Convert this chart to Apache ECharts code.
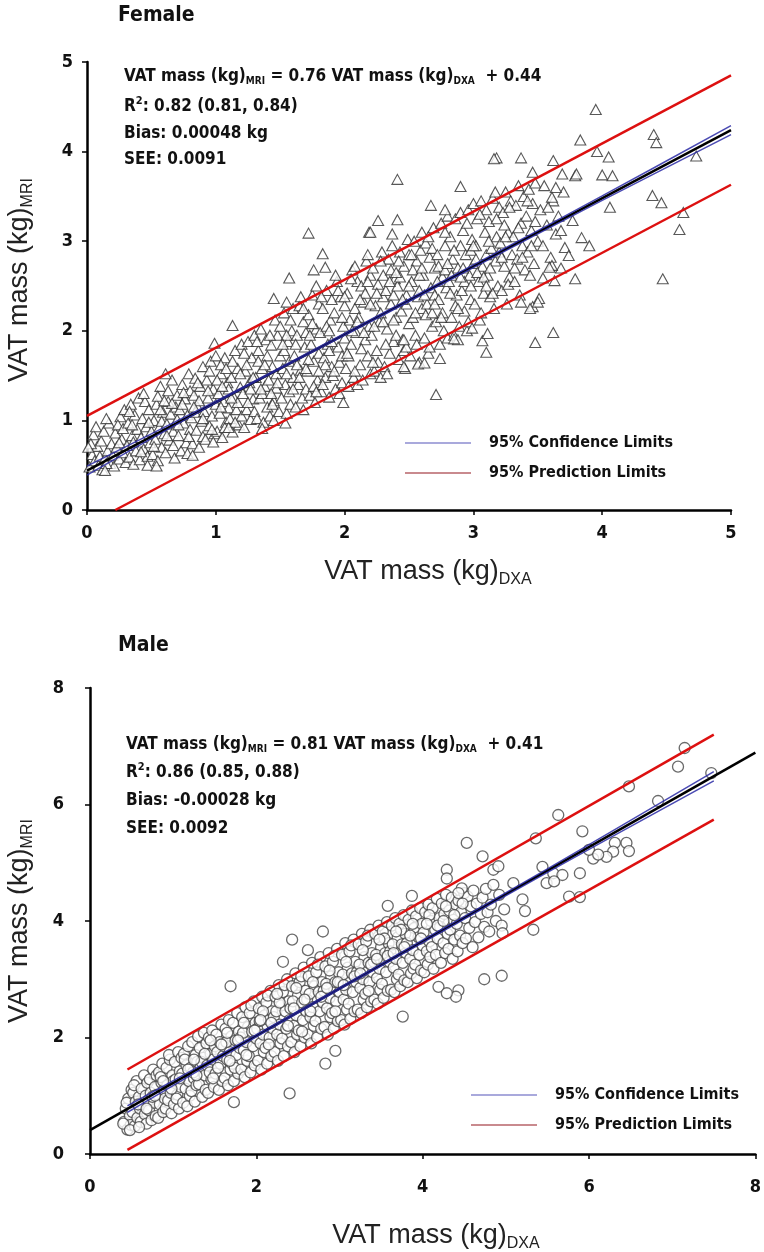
<!DOCTYPE html>
<html>
<head>
<meta charset="utf-8">
<script src="https://cdn.jsdelivr.net/npm/echarts@6/dist/echarts.min.js"></script>
<style>html,body{margin:0;padding:0;background:#fff}#c{width:764px;height:1252px}</style>
</head>
<body>
<div id="c"></div>
<script>
// ---------------- DATA ----------------
const panelTitles = ['Female', 'Male'];
const legendNames = ['95% Confidence Limits', '95% Prediction Limits'];

// Female: VAT mass DXA (x) vs MRI (y)
const femalePoints = [
[0.02,0.48],[0.04,0.62],[0.06,0.55],[0.08,0.71],[0.05,0.84],[0.09,0.50],[0.03,0.74],[0.07,0.93],[0.10,0.60],
[0.12,0.45],[0.14,0.58],[0.11,0.77],[0.16,0.66],[0.18,0.52],[0.13,0.88],[0.17,0.97],[0.19,0.74],[0.15,1.02],[0.20,0.61],
[0.21,0.49],[0.23,0.70],[0.22,0.86],[0.25,0.57],[0.26,1.04],[0.24,0.95],[0.28,0.64],[0.27,0.79],[0.29,1.12],[0.30,0.53],[0.28,0.91],
[0.31,0.72],[0.33,0.59],[0.32,0.97],[0.34,1.18],[0.35,0.83],[0.36,0.51],[0.37,1.06],[0.38,0.66],[0.39,0.90],[0.40,1.25],[0.36,0.76],[0.33,1.10],
[0.41,0.56],[0.42,0.81],[0.43,1.02],[0.44,0.68],[0.45,1.21],[0.46,0.93],[0.47,0.60],[0.48,1.12],[0.49,0.75],[0.50,0.88],[0.44,1.30],[0.47,0.50],
[0.51,0.62],[0.52,1.00],[0.53,0.79],[0.54,1.18],[0.55,0.55],[0.56,0.92],[0.57,1.38],[0.58,0.70],[0.59,1.09],[0.60,0.85],[0.55,1.27],[0.58,0.99],
[0.61,0.64],[0.62,0.96],[0.63,1.21],[0.64,0.78],[0.65,1.07],[0.66,1.45],[0.67,0.88],[0.68,0.58],[0.69,1.15],[0.70,1.01],[0.63,1.33],[0.67,0.72],[0.70,1.28],
[0.71,0.83],[0.72,1.12],[0.73,0.66],[0.74,1.40],[0.75,0.97],[0.76,1.24],[0.77,0.75],[0.78,1.06],[0.79,1.52],[0.80,0.90],[0.74,1.18],[0.78,0.63],[0.80,1.33],
[0.81,1.03],[0.82,0.74],[0.83,1.28],[0.84,1.47],[0.85,0.89],[0.86,1.15],[0.87,0.70],[0.88,1.38],[0.89,0.99],[0.90,1.60],[0.84,1.09],[0.87,1.22],[0.90,0.82],
[0.91,1.10],[0.92,0.79],[0.93,1.45],[0.94,1.25],[0.95,0.94],[0.96,1.66],[0.97,1.05],[0.98,1.35],[0.99,0.85],[1.00,1.18],[0.95,1.55],[0.98,0.76],[1.00,1.72],
[1.01,0.88],[1.02,1.30],[1.03,1.08],[1.04,1.52],[1.05,0.81],[1.06,1.21],[1.07,1.70],[1.08,0.98],[1.09,1.42],[1.10,1.14],[1.04,1.62],[1.07,0.92],[1.10,1.35],
[1.11,1.02],[1.12,1.48],[1.13,0.87],[1.14,1.26],[1.15,1.78],[1.16,1.12],[1.17,1.58],[1.18,0.95],[1.19,1.37],[1.20,1.85],[1.13,1.66],[1.17,1.20],[1.20,1.05],
[1.21,1.30],[1.22,0.92],[1.23,1.55],[1.24,1.12],[1.25,1.88],[1.26,1.42],[1.27,1.01],[1.28,1.70],[1.29,1.24],[1.30,1.95],[1.24,1.62],[1.27,1.35],[1.30,1.10],
[1.31,1.48],[1.32,1.02],[1.33,1.78],[1.34,1.25],[1.35,2.02],[1.36,1.58],[1.37,0.98],[1.38,1.38],[1.39,1.90],[1.40,1.15],[1.33,1.66],[1.36,1.30],[1.40,1.72],
[1.41,1.45],[1.42,1.05],[1.43,1.84],[1.44,1.60],[1.45,1.22],[1.46,2.12],[1.47,1.36],[1.48,1.95],[1.49,1.10],[1.50,1.72],[1.43,1.30],[1.47,1.52],[1.50,2.05],[1.45,1.00],
[1.51,1.25],[1.52,1.58],[1.53,2.20],[1.54,1.40],[1.55,1.08],[1.56,1.88],[1.57,1.66],[1.58,1.18],[1.59,2.00],[1.60,1.48],[1.53,1.78],[1.57,1.32],[1.60,2.25],[1.55,1.95],
[1.61,1.72],[1.62,1.15],[1.63,1.95],[1.64,1.40],[1.65,2.28],[1.66,1.56],[1.67,1.25],[1.68,2.10],[1.69,1.82],[1.70,1.35],[1.63,1.62],[1.66,2.38],[1.70,1.98],[1.68,1.12],
[1.71,1.55],[1.72,2.18],[1.73,1.28],[1.74,1.85],[1.75,2.40],[1.76,1.66],[1.77,1.20],[1.78,2.02],[1.79,1.45],[1.80,2.30],[1.73,1.95],[1.76,1.38],[1.80,1.75],[1.78,2.50],
[1.81,1.98],[1.82,1.32],[1.83,2.25],[1.84,1.70],[1.85,1.48],[1.86,2.45],[1.87,1.85],[1.88,1.26],[1.89,2.12],[1.90,1.60],[1.83,1.40],[1.86,2.05],[1.90,2.35],[1.88,1.78],
[1.91,1.50],[1.92,2.20],[1.93,1.35],[1.94,2.55],[1.95,1.82],[1.96,1.65],[1.97,2.38],[1.98,1.42],[1.99,2.05],[2.00,1.92],[1.93,2.62],[1.96,1.30],[2.00,2.28],[1.98,1.72],
[2.01,1.58],[2.02,2.42],[2.03,1.38],[2.04,2.12],[2.05,1.85],[2.06,2.68],[2.07,1.48],[2.08,2.25],[2.09,1.98],[2.10,2.55],[2.03,1.72],[2.06,2.00],[2.10,1.40],[2.08,2.72],
[2.11,2.15],[2.12,1.62],[2.13,2.50],[2.14,1.45],[2.15,2.32],[2.16,1.90],[2.17,2.78],[2.18,1.72],[2.19,2.05],[2.20,2.62],[2.13,1.80],[2.16,2.42],[2.20,1.52],[2.18,2.85],
[2.21,1.95],[2.22,2.70],[2.23,1.55],[2.24,2.28],[2.25,1.78],[2.26,2.52],[2.27,2.10],[2.28,1.48],[2.29,2.88],[2.30,2.38],[2.23,2.05],[2.26,1.65],[2.30,2.62],[2.28,2.20],
[2.31,1.60],[2.32,2.45],[2.33,2.02],[2.34,2.80],[2.35,1.75],[2.36,2.30],[2.37,2.95],[2.38,1.88],[2.39,2.58],[2.40,2.15],[2.33,1.52],[2.36,2.68],[2.40,1.95],[2.38,2.40],
[2.41,2.50],[2.42,1.68],[2.43,2.88],[2.44,2.22],[2.45,1.90],[2.46,2.72],[2.47,1.58],[2.48,2.40],[2.49,3.02],[2.50,2.08],[2.43,2.60],[2.46,1.78],[2.50,2.85],[2.48,2.30],
[2.51,1.72],[2.52,2.55],[2.53,2.15],[2.54,3.00],[2.55,1.95],[2.56,2.78],[2.57,2.38],[2.58,1.65],[2.59,2.90],[2.60,2.25],[2.53,2.68],[2.56,1.85],[2.60,3.10],[2.58,2.45],
[2.61,2.62],[2.62,1.92],[2.63,2.98],[2.64,2.30],[2.65,1.75],[2.66,2.82],[2.67,2.48],[2.68,2.05],[2.69,3.15],[2.70,2.70],[2.63,2.18],[2.66,1.82],[2.70,2.40],[2.68,2.92],
[2.71,2.10],[2.72,2.85],[2.73,2.35],[2.74,1.85],[2.75,3.20],[2.76,2.60],[2.77,2.00],[2.78,2.95],[2.79,2.48],[2.80,3.28],[2.73,2.72],[2.76,2.20],[2.80,1.92],[2.78,2.68],
[2.81,2.55],[2.82,3.05],[2.83,2.15],[2.84,2.80],[2.85,1.95],[2.86,3.25],[2.87,2.40],[2.88,2.70],[2.89,2.05],[2.90,2.95],[2.83,2.62],[2.86,2.28],[2.90,3.32],[2.88,1.90],
[2.91,2.45],[2.92,3.12],[2.93,2.22],[2.94,2.85],[2.95,2.00],[2.96,3.35],[2.97,2.62],[2.98,2.35],[2.99,3.02],[3.00,2.75],[2.93,2.55],[2.96,2.10],[3.00,3.42],[2.98,2.90],
[3.01,2.30],[3.02,2.95],[3.03,3.25],[3.04,2.55],[3.05,2.12],[3.06,3.45],[3.07,2.72],[3.08,2.42],[3.09,3.10],[3.10,2.85],[3.03,2.65],[3.06,2.20],[3.10,3.35],
[3.11,2.62],[3.12,3.22],[3.13,2.38],[3.14,2.92],[3.15,3.48],[3.16,2.25],[3.17,2.78],[3.18,3.05],[3.19,2.50],[3.20,3.38],[3.13,2.70],[3.17,3.55],[3.20,2.88],
[3.21,2.98],[3.22,2.45],[3.23,3.32],[3.24,2.72],[3.25,3.55],[3.26,2.30],[3.27,3.10],[3.28,2.60],[3.29,3.45],[3.30,2.85],[3.24,3.18],[3.27,2.52],
[3.31,3.05],[3.32,2.55],[3.33,3.40],[3.34,2.80],[3.35,3.62],[3.36,2.40],[3.37,3.20],[3.38,2.95],[3.39,3.50],[3.40,2.68],
[3.41,3.28],[3.42,2.88],[3.43,3.58],[3.44,2.62],[3.45,3.12],[3.46,3.42],[3.47,2.75],[3.48,3.65],[3.50,3.00],
[3.52,3.35],[3.54,2.95],[3.55,3.62],[3.57,3.18],[3.60,2.82],[3.62,3.45],[3.64,3.08],[3.66,3.28],[3.68,2.70],[3.70,3.55],
[0.52,0.71],[0.57,1.12],[0.62,0.83],[0.66,1.19],[0.71,0.95],[0.75,1.31],[0.79,0.82],[0.83,1.15],[0.86,1.42],[0.90,1.02],
[0.94,1.33],[0.97,0.90],[1.01,1.45],[1.04,1.15],[1.08,1.58],[1.12,1.25],[1.15,0.98],[1.19,1.52],[1.22,1.75],[1.25,1.20],
[1.29,1.48],[1.32,1.88],[1.35,1.35],[1.38,1.62],[1.42,1.95],[1.44,1.18],[1.48,1.42],[1.52,1.85],[1.55,1.52],[1.58,2.12],
[1.62,1.85],[1.65,1.48],[1.68,2.25],[1.72,1.68],[1.75,2.08],[1.78,1.32],[1.82,2.38],[1.85,1.62],[1.88,2.00],[1.92,1.55],
[1.95,2.45],[1.98,2.15],[2.02,1.75],[2.05,2.58],[2.08,1.55],[2.12,2.35],[2.15,1.98],[2.18,2.55],[2.22,1.65],[2.25,2.42],
[2.28,2.78],[2.32,1.85],[2.35,2.55],[2.38,2.12],[2.42,2.78],[2.45,2.35],[2.48,1.82],[2.52,2.85],[2.55,2.20],[2.58,2.62],
[2.62,2.40],[2.65,3.05],[2.68,2.20],[2.72,2.55],[2.75,2.15],[2.78,3.10],[2.82,2.42],[2.85,2.90],[2.88,2.25],[2.92,2.70],
[2.95,3.20],[2.98,2.50],[3.02,2.80],[3.05,3.30],[3.08,2.60],[3.12,3.00],[3.15,2.42],[3.18,3.25],[3.22,2.82],[3.25,3.05],
[3.28,3.38],[3.32,2.70],[3.35,3.15],[3.38,2.82],[3.42,3.45],[3.45,2.95],[3.48,3.22],[1.05,1.38],[1.10,0.92],[0.60,1.22],
[0.35,0.95],[0.25,0.75],[0.15,0.52],[0.42,0.65],[0.48,0.98],[1.60,1.35],[1.70,1.58],[1.80,1.55],[1.90,1.88],[2.00,2.38],
[2.10,2.10],[2.20,2.30],[2.30,2.10],[2.40,2.65],[2.50,2.50],[2.60,2.70],[2.70,2.30],[2.80,2.75],[2.90,2.60],[3.00,2.95],[3.10,2.50],
[3.95,4.47],[3.83,4.13],[4.40,4.19],[4.42,4.10],[3.96,4.00],[4.05,3.94],[3.18,3.93],[3.37,3.93],[3.62,3.90],[4.73,3.95],
[4.00,3.74],[4.08,3.73],[3.79,3.73],[3.69,3.75],[3.46,3.77],[2.41,3.69],[2.90,3.61],[4.39,3.51],[4.46,3.43],[4.06,3.38],
[4.63,3.32],[4.60,3.13],[4.47,2.58],[2.67,3.40],[2.78,3.35],[2.26,3.23],[2.41,3.24],[2.19,3.10],[2.37,3.08],[1.72,3.09],
[1.83,2.86],[1.76,2.68],[1.85,2.71],[1.57,2.59],[1.45,2.36],[1.55,2.32],[1.13,2.06],[0.99,1.86],[0.61,1.52],[0.01,0.70],
[2.71,1.29],[1.99,1.20],[3.62,1.98],[3.48,1.87],[3.07,1.89],[3.10,1.76],[2.74,1.69],[3.79,2.58],[3.61,2.73],[3.63,2.56],
[3.84,3.04],[3.90,2.95],[3.71,2.93],[3.74,2.84],[3.51,2.36],[3.46,2.27],[3.37,2.32],[2.99,2.03],[3.11,1.97],[2.57,1.63],
[2.62,1.64],[2.46,1.60],[2.46,1.90],[2.85,1.91],[1.54,0.97],[1.36,0.91],[0.82,0.61],[0.54,0.49],[0.14,0.44],[3.16,3.92],
[3.80,3.75],[3.64,3.60],[3.61,3.49],[3.58,3.38],[3.77,3.23],[3.68,3.12],[3.54,2.59],[3.50,2.32],[3.44,2.25],[3.59,2.71],[2.20,3.10]
];

const femaleFitLine = [[0, 0.44], [5, 4.24]];
const femaleCIUpper = [[0, 0.49], [1, 1.215], [2, 1.972], [3, 2.735], [4, 3.505], [5, 4.29]];
const femaleCILower = [[0, 0.39], [1, 1.195], [2, 1.948], [3, 2.705], [4, 3.455], [5, 4.19]];
const femalePredUpper = [[0, 1.05], [5, 4.85]];
const femalePredLower = [[0.22, 0], [5, 3.63]];

// Male
const malePoints = [
[0.41,0.55],[0.43,0.78],[0.45,0.42],[0.46,0.95],[0.48,0.66],[0.50,1.10],[0.44,0.88],[0.49,0.50],
[0.51,0.72],[0.52,1.05],[0.54,0.48],[0.55,0.90],[0.56,1.25],[0.57,0.62],[0.59,0.98],[0.60,0.78],[0.53,1.18],
[0.61,0.55],[0.62,1.12],[0.63,0.85],[0.65,1.35],[0.66,0.68],[0.67,1.00],[0.68,0.52],[0.69,1.22],[0.70,0.92],
[0.71,0.75],[0.72,1.28],[0.73,1.05],[0.74,0.58],[0.76,1.45],[0.77,0.88],[0.78,1.15],[0.79,0.65],[0.80,1.35],[0.75,0.98],
[0.81,1.02],[0.82,0.62],[0.83,1.40],[0.84,0.85],[0.86,1.22],[0.87,1.55],[0.88,0.72],[0.89,1.10],[0.90,0.95],[0.85,1.32],
[0.91,0.78],[0.92,1.48],[0.93,1.18],[0.94,0.92],[0.96,1.62],[0.97,1.05],[0.98,0.70],[0.99,1.35],[1.00,1.25],[0.95,1.70],
[1.01,0.85],[1.02,1.58],[1.03,1.28],[1.05,1.02],[1.06,1.75],[1.07,0.78],[1.08,1.42],[1.09,1.15],[1.10,1.65],[1.04,0.95],
[1.11,1.38],[1.12,0.88],[1.13,1.72],[1.15,1.12],[1.16,1.52],[1.17,0.82],[1.18,1.85],[1.19,1.25],[1.20,1.00],[1.14,1.62],
[1.21,1.48],[1.22,1.08],[1.23,1.92],[1.25,1.30],[1.26,0.90],[1.27,1.70],[1.28,1.18],[1.29,1.58],[1.30,2.02],[1.24,1.40],
[1.31,1.20],[1.32,1.82],[1.33,1.50],[1.35,0.98],[1.36,1.65],[1.37,2.08],[1.38,1.35],[1.39,1.10],[1.40,1.90],[1.34,1.58],
[1.41,1.52],[1.42,1.05],[1.43,2.00],[1.45,1.72],[1.46,1.28],[1.47,2.12],[1.48,1.62],[1.49,1.15],[1.50,1.85],[1.44,1.40],
[1.51,1.38],[1.52,2.05],[1.53,1.75],[1.55,1.10],[1.56,1.92],[1.57,1.55],[1.58,2.22],[1.59,1.25],[1.60,1.68],[1.54,1.48],
[1.61,1.85],[1.62,1.30],[1.63,2.15],[1.65,1.62],[1.66,1.18],[1.67,2.30],[1.68,1.75],[1.69,1.45],[1.70,2.02],[1.64,1.92],
[1.71,1.55],[1.72,2.25],[1.73,1.25],[1.75,1.95],[1.76,1.70],[1.77,2.42],[1.78,1.38],[1.79,2.10],[1.80,1.82],[1.74,1.48],
[1.81,2.00],[1.82,1.45],[1.83,2.35],[1.85,1.78],[1.86,1.32],[1.87,2.52],[1.88,1.92],[1.89,1.60],[1.90,2.18],[1.84,2.08],
[1.91,1.68],[1.92,2.42],[1.93,1.40],[1.95,2.10],[1.96,1.85],[1.97,2.62],[1.98,1.52],[1.99,2.25],[2.00,1.98],[1.94,2.55],
[2.01,2.15],[2.02,1.60],[2.03,2.50],[2.05,1.90],[2.06,1.45],[2.07,2.70],[2.08,2.05],[2.09,1.75],[2.10,2.38],[2.04,2.28],
[2.11,1.82],[2.12,2.60],[2.13,1.55],[2.15,2.30],[2.16,2.00],[2.17,2.80],[2.18,1.68],[2.19,2.45],[2.20,2.15],[2.14,2.72],
[2.21,2.35],[2.22,1.75],[2.23,2.70],[2.25,2.05],[2.26,1.60],[2.27,2.90],[2.28,2.22],[2.29,1.90],[2.30,2.55],[2.24,2.45],
[2.31,1.98],[2.32,2.78],[2.33,1.68],[2.35,2.45],[2.36,2.15],[2.37,3.00],[2.38,1.85],[2.39,2.62],[2.40,2.30],[2.34,2.90],
[2.41,2.50],[2.42,1.92],[2.43,2.88],[2.45,2.20],[2.46,1.75],[2.47,3.10],[2.48,2.38],[2.49,2.05],[2.50,2.72],[2.44,2.62],
[2.51,2.12],[2.52,2.95],[2.53,1.85],[2.55,2.60],[2.56,2.30],[2.57,3.20],[2.58,2.00],[2.59,2.80],[2.60,2.45],[2.54,3.05],
[2.61,2.65],[2.62,2.05],[2.63,3.05],[2.65,2.35],[2.66,1.90],[2.67,3.28],[2.68,2.52],[2.69,2.20],[2.70,2.88],[2.64,2.75],
[2.71,2.28],[2.72,3.12],[2.73,2.00],[2.75,2.78],[2.76,2.45],[2.77,3.38],[2.78,2.15],[2.79,2.95],[2.80,2.60],[2.74,3.25],
[2.81,2.80],[2.82,2.18],[2.83,3.22],[2.85,2.50],[2.86,2.05],[2.87,3.45],[2.88,2.68],[2.89,2.35],[2.90,3.05],[2.84,2.92],
[2.91,2.42],[2.92,3.30],[2.93,2.15],[2.95,2.95],[2.96,2.62],[2.97,3.52],[2.98,2.28],[2.99,3.12],[3.00,2.78],[2.94,3.40],
[3.01,2.95],[3.02,2.30],[3.03,3.42],[3.05,2.65],[3.06,2.22],[3.07,3.62],[3.08,2.82],[3.09,2.48],[3.10,3.20],[3.04,3.08],
[3.11,2.58],[3.12,3.48],[3.13,2.32],[3.15,3.10],[3.16,2.78],[3.17,3.68],[3.18,2.45],[3.19,3.30],[3.20,2.95],[3.14,3.58],
[3.21,3.12],[3.22,2.48],[3.23,3.60],[3.25,2.85],[3.26,2.42],[3.27,3.78],[3.28,3.00],[3.29,2.65],[3.30,3.38],[3.24,3.25],
[3.31,2.75],[3.32,3.65],[3.33,2.52],[3.35,3.28],[3.36,2.95],[3.37,3.85],[3.38,2.62],[3.39,3.45],[3.40,3.12],[3.34,3.75],
[3.41,3.30],[3.42,2.65],[3.43,3.78],[3.45,3.02],[3.46,2.58],[3.47,3.92],[3.48,3.18],[3.49,2.82],[3.50,3.55],[3.44,3.42],
[3.51,2.92],[3.52,3.82],[3.53,2.68],[3.55,3.45],[3.56,3.12],[3.57,3.98],[3.58,2.80],[3.59,3.62],[3.60,3.30],[3.54,3.70],
[3.61,3.48],[3.62,2.82],[3.63,3.92],[3.65,3.20],[3.66,2.78],[3.67,4.05],[3.68,3.35],[3.69,3.00],[3.70,3.72],[3.64,3.60],
[3.71,3.08],[3.72,3.95],[3.73,2.88],[3.75,3.60],[3.76,3.28],[3.77,4.10],[3.78,2.98],[3.79,3.78],[3.80,3.45],[3.74,3.85],
[3.81,3.62],[3.82,2.95],[3.83,4.02],[3.85,3.35],[3.86,3.10],[3.87,4.18],[3.88,3.50],[3.89,3.18],[3.90,3.88],
[3.91,3.25],[3.92,4.08],[3.93,3.02],[3.95,3.72],[3.96,3.42],[3.97,4.22],[3.98,3.15],[3.99,3.95],[4.00,3.58],
[4.01,3.80],[4.02,3.12],[4.03,4.15],[4.05,3.48],[4.06,3.25],[4.07,4.28],[4.08,3.65],[4.09,3.38],[4.10,4.00],
[4.11,3.55],[4.12,4.22],[4.13,3.18],[4.15,3.85],[4.16,3.42],[4.17,4.38],[4.18,3.70],[4.20,4.05],
[4.21,3.90],[4.22,3.28],[4.23,4.30],[4.25,3.62],[4.26,4.12],[4.27,3.45],[4.28,4.45],[4.30,3.78],
[4.31,3.52],[4.32,4.18],[4.33,3.85],[4.35,4.40],[4.36,3.35],[4.37,4.02],[4.38,3.68],[4.40,4.28],
[4.41,3.95],[4.42,3.48],[4.43,4.35],[4.45,3.75],[4.46,4.15],[4.48,3.62],[4.50,4.48],
[4.51,4.05],[4.52,3.70],[4.54,4.42],[4.56,3.88],[4.58,4.25],[4.60,3.55],
[4.61,4.52],[4.63,3.98],[4.65,4.30],[4.67,3.72],[4.70,4.12],
[4.72,4.40],[4.74,3.90],[4.76,4.55],[4.78,4.15],[4.80,3.82],
[4.82,4.28],[4.85,4.62],[4.88,4.00],[4.92,4.45],[4.95,3.92],[4.98,4.20],
[0.58,0.85],[0.68,0.78],[0.78,1.00],[0.88,1.25],[0.98,1.12],[1.08,1.30],[1.18,1.45],[1.28,1.35],[1.38,1.72],[1.48,1.30],
[1.58,1.88],[1.68,1.60],[1.78,1.95],[1.88,1.70],[1.98,2.12],[2.08,2.45],[2.18,2.25],[2.28,2.60],[2.38,2.20],[2.48,2.85],
[2.58,2.65],[2.68,2.95],[2.78,2.70],[2.88,3.15],[2.98,2.95],[3.08,3.30],[3.18,3.05],[3.28,3.50],[3.38,3.25],[3.48,3.68],
[3.58,3.40],[3.68,3.82],[3.78,3.55],[3.88,3.95],[3.98,3.70],[4.08,4.10],[4.18,3.92],[4.28,4.25],[4.38,4.10],[4.48,4.30],
[1.25,1.62],[1.45,1.95],[1.65,2.08],[1.85,2.25],[2.05,2.30],[2.25,2.75],[2.45,2.50],[2.65,2.45],[2.85,2.85],[3.05,2.90],
[3.25,3.10],[3.45,3.35],[3.65,3.45],[3.85,3.75],[4.05,3.95],[4.25,4.00],[2.15,1.88],[2.55,2.10],[2.95,2.45],[3.35,2.80],
[7.15,6.97],[7.07,6.65],[7.47,6.54],[6.48,6.31],[6.83,6.06],[5.63,5.82],[5.92,5.54],[5.36,5.42],[4.53,5.34],[4.72,5.11],
[4.85,4.88],[4.91,4.94],[6.31,5.34],[6.45,5.34],[6.48,5.20],[6.29,5.19],[6.21,5.10],[6.05,5.07],[6.00,5.22],[6.11,5.14],
[5.44,4.93],[5.57,4.82],[5.68,4.79],[5.89,4.82],[5.49,4.65],[5.58,4.68],[5.89,4.41],[5.76,4.42],[5.33,3.85],[4.29,4.88],
[4.29,4.73],[5.09,4.65],[5.20,4.37],[5.23,4.17],[4.96,3.79],[4.95,3.06],[4.74,3.00],[4.43,2.81],[4.40,2.70],[4.19,2.87],
[4.29,2.76],[3.76,2.36],[2.95,1.77],[2.83,1.55],[2.40,1.04],[1.73,0.89],[1.69,2.88],[2.43,3.68],[2.80,3.82],[2.32,3.30],
[2.62,3.50],[3.87,4.43],[3.58,4.26],[4.47,4.56],[4.43,4.48],[0.40,0.52],[0.48,0.41],[0.59,0.46]
];

const maleFitLine = [[0, 0.41], [8, 6.89]];
const maleCIUpper = [[0.45, 0.825], [2, 2.05], [3, 2.855], [4, 3.672], [5.5, 4.895], [7.5, 6.565]];
const maleCILower = [[0.45, 0.715], [2, 2.01], [3, 2.825], [4, 3.628], [5.5, 4.835], [7.5, 6.405]];
const malePredUpper = [[0.45, 1.45], [7.5, 7.2]];
const malePredLower = [[0.45, 0.07], [7.5, 5.74]];

const femaleStats = ['0.76', '0.44', '0.82 (0.81, 0.84)', '0.00048 kg', '0.0091'];
const maleStats = ['0.81', '0.41', '0.86 (0.85, 0.88)', '-0.00028 kg', '0.0092'];

// ---------------- CHART ----------------
const FN = '"Liberation Sans Narrow","Arial Narrow","DejaVu Sans Condensed",sans-serif';
const FS = '"Liberation Sans",Arial,sans-serif';
const chart = echarts.init(document.getElementById('c'), null, {renderer: 'canvas'});

function axisCfg(grid, max, interval, margin) {
  return {
    gridIndex: grid, type: 'value', min: 0, max: max, interval: interval,
    axisLine: {show: true, onZero: false, lineStyle: {color: '#000', width: 2.5}},
    axisTick: {show: true, length: 5, lineStyle: {color: '#000', width: 1.5}},
    axisLabel: {margin: margin, fontSize: 18, fontWeight: 'bold', color: '#111', fontFamily: FN},
    splitLine: {show: false}
  };
}
function line(name, data, ax, color, width, smooth, opacity) {
  return {
    name: name, type: 'line', xAxisIndex: ax, yAxisIndex: ax, data: data,
    symbol: 'none', smooth: smooth ? 0.35 : false, silent: true,
    lineStyle: {color: color, width: width, opacity: opacity == null ? 1 : opacity},
    itemStyle: {color: color}
  };
}
function eqText(x, y, stats) {
  const rich = {
    a: {fontSize: 17, fontWeight: 'bold', fontFamily: FN, lineHeight: 22, fill: '#111'},
    s: {fontSize: 10, fontWeight: 'bold', fontFamily: FN, lineHeight: 22, verticalAlign: 'bottom', padding: [0, 0, 2, 0], fill: '#111'},
    p: {fontSize: 11, fontWeight: 'bold', fontFamily: FN, verticalAlign: 'top', fill: '#111'}
  };
  return [
    {type: 'text', x: x, y: y[0], style: {text: '{a|VAT mass (kg)}{s|MRI}{a| = ' + stats[0] + ' VAT mass (kg)}{s|DXA}{a|  + ' + stats[1] + '}', rich: rich, verticalAlign: 'middle'}},
    {type: 'text', x: x, y: y[1], style: {text: '{a|R}{p|2}{a|: ' + stats[2] + '}', rich: rich, verticalAlign: 'middle'}},
    {type: 'text', x: x, y: y[2], style: {text: '{a|Bias: ' + stats[3] + '}', rich: rich, verticalAlign: 'middle'}},
    {type: 'text', x: x, y: y[3], style: {text: '{a|SEE: ' + stats[4] + '}', rich: rich, verticalAlign: 'middle'}}
  ];
}
function axisTitle(x, y, main, sub, rot) {
  return {
    type: 'text', x: x, y: y, rotation: rot,
    style: {
      text: '{a|' + main + '}{s|' + sub + '}', align: 'center', verticalAlign: 'middle',
      rich: {
        a: {fontSize: 27, fontFamily: FS, lineHeight: 32, fill: '#222'},
        s: {fontSize: 16, fontFamily: FS, lineHeight: 32, verticalAlign: 'bottom', fill: '#222'}
      }
    }
  };
}
function legend(left, top) {
  return {
    orient: 'vertical', left: left, top: top, padding: 0, icon: 'rect', itemWidth: 66, itemHeight: 2, itemGap: 12,
    selectedMode: false,
    data: [
      {name: legendNames[0], itemStyle: {color: '#a9a9dc'}},
      {name: legendNames[1], itemStyle: {color: '#c98a8e'}}
    ],
    textStyle: {fontSize: 16, fontWeight: 'bold', fontFamily: FN, color: '#111', lineHeight: 18, padding: [0, 0, 0, 13]}
  };
}

const option = {
  animation: false,
  backgroundColor: '#fff',
  grid: [
    {left: 87, top: 62, width: 644, height: 448},
    {left: 90, top: 688, width: 669, height: 466}
  ],
  xAxis: [axisCfg(0, 5, 1, 14), axisCfg(1, 8, 2, 24)],
  yAxis: [axisCfg(0, 5, 1, 14), axisCfg(1, 8, 2, 26)],
  legend: [legend(405, 434), legend(471, 1086)],
  series: [
    {type: 'scatter', xAxisIndex: 0, yAxisIndex: 0, data: femalePoints, symbol: 'triangle', symbolSize: [11, 10],
     itemStyle: {color: '#fff', borderColor: '#2e2e2e', borderWidth: 1.1}, silent: true},
    line('fitF', femaleFitLine, 0, '#000', 2.5),
    line(legendNames[0], femaleCIUpper, 0, '#2a2aa6', 1.5, true, 0.85),
    line(legendNames[0], femaleCILower, 0, '#2a2aa6', 1.5, true, 0.85),
    line(legendNames[1], femalePredUpper, 0, '#dd1010', 2.5),
    line(legendNames[1], femalePredLower, 0, '#dd1010', 2.5),
    {type: 'scatter', xAxisIndex: 1, yAxisIndex: 1, data: malePoints, symbol: 'circle', symbolSize: 11,
     itemStyle: {color: '#fff', borderColor: '#454545', borderWidth: 1.3}, silent: true},
    line('fitM', maleFitLine, 1, '#000', 2.5),
    line(legendNames[0], maleCIUpper, 1, '#2a2aa6', 1.5, true, 0.85),
    line(legendNames[0], maleCILower, 1, '#2a2aa6', 1.5, true, 0.85),
    line(legendNames[1], malePredUpper, 1, '#dd1010', 2.5),
    line(legendNames[1], malePredLower, 1, '#dd1010', 2.5)
  ],
  graphic: [].concat(
    [
      {type: 'text', x: 118, y: 16, style: {text: panelTitles[0], fontSize: 21, fontWeight: 'bold', fontFamily: FN, fill: '#111', verticalAlign: 'middle'}},
      {type: 'text', x: 118, y: 646, style: {text: panelTitles[1], fontSize: 21, fontWeight: 'bold', fontFamily: FN, fill: '#111', verticalAlign: 'middle'}},
      axisTitle(428, 572, 'VAT mass (kg)', 'DXA', 0),
      axisTitle(20, 280, 'VAT mass (kg)', 'MRI', Math.PI / 2),
      axisTitle(436, 1236, 'VAT mass (kg)', 'DXA', 0),
      axisTitle(20, 921, 'VAT mass (kg)', 'MRI', Math.PI / 2)
    ],
    eqText(124, [77, 107, 134, 160], femaleStats),
    eqText(126, [745, 773, 801, 829], maleStats)
  )
};
chart.setOption(option);
</script>
</body>
</html>
